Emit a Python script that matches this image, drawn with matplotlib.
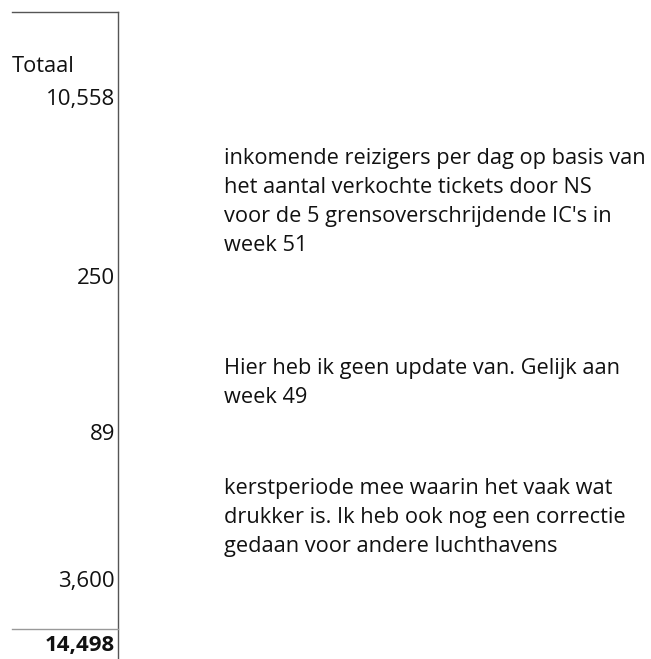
import matplotlib
matplotlib.use("Agg")
import matplotlib.pyplot as plt

# Table values (left column) and notes (right column)
header = "Totaal"
values = ["10,558", "250", "89", "3,600"]
total = "14,498"
notes = [
    "inkomende reizigers per dag op basis van\nhet aantal verkochte tickets door NS\nvoor de 5 grensoverschrijdende IC's in\nweek 51",
    "Hier heb ik geen update van. Gelijk aan\nweek 49",
    "kerstperiode mee waarin het vaak wat\ndrukker is. Ik heb ook nog een correctie\ngedaan voor andere luchthavens",
]

# layout in pixel coords
value_y = [99, 278, 434, 581]
note_top = [148, 358, 478]

plt.rcParams['font.family'] = ['Open Sans', 'DejaVu Sans']
fig = plt.figure(figsize=(6.51, 6.59), dpi=100)
ax = fig.add_axes([0, 0, 1, 1])
ax.set_xlim(0, 651)
ax.set_ylim(659, 0)
ax.axis('off')

fs = 15.7
ax.plot([12, 118], [12, 12], color='#555555', lw=1)
ax.plot([118, 118], [12, 659], color='#555555', lw=1)
ax.plot([12, 118], [629, 629], color='#999999', lw=1)

ax.text(12, 67, header, fontsize=fs, va='center', ha='left', color='#111111')
for v, y in zip(values, value_y):
    ax.text(115, y, v, fontsize=16, va='center', ha='right', color='#111111')
ax.text(115, 646, total, fontsize=16, va='center', ha='right', fontweight='bold', color='#111111')

for n, y in zip(notes, note_top):
    ax.text(224, y, n, fontsize=fs, va='top', ha='left', linespacing=1.51, color='#111111')

fig.savefig("out.png", dpi=100)
